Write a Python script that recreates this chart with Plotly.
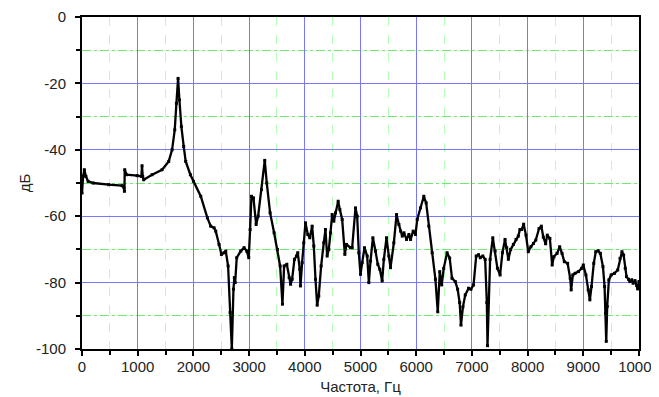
import plotly.graph_objects as go

freq_hz = [0, 20, 42, 70, 110, 200, 480, 720, 755, 762, 767, 800, 990, 1066, 1078, 1090, 1108, 1258, 1437, 1557,
           1617, 1665, 1695, 1725, 1749, 1784, 1826, 1862, 1946, 2000, 2132, 2251, 2311, 2371, 2401, 2461, 2503,
           2551, 2581, 2623, 2659, 2690, 2719, 2735, 2750, 2778, 2850, 2910, 2958, 2994, 3018, 3042, 3078, 3126,
           3162, 3222, 3281, 3317, 3377, 3449, 3509, 3557, 3599, 3629, 3677, 3719, 3745, 3772, 3814, 3850, 3874,
           3910, 3922, 3952, 3982, 4012, 4054, 4090, 4132, 4162, 4192, 4222, 4251, 4293, 4341, 4371, 4401, 4431,
           4461, 4491, 4521, 4551, 4599, 4629, 4671, 4719, 4749, 4820, 4850, 4910, 4940, 4970, 5000, 5030, 5072,
           5120, 5150, 5180, 5222, 5269, 5311, 5347, 5389, 5419, 5467, 5509, 5539, 5599, 5647, 5689, 5720, 5750,
           5780, 5827, 5869, 5899, 5946, 5988, 6018, 6077, 6137, 6179, 6226, 6286, 6345, 6387, 6423, 6458, 6494,
           6554, 6601, 6643, 6702, 6744, 6780, 6804, 6839, 6881, 6940, 6982, 7030, 7077, 7119, 7150, 7196, 7238,
           7268, 7280, 7298, 7327, 7375, 7417, 7458, 7506, 7548, 7595, 7625, 7655, 7696, 7744, 7792, 7833, 7863,
           7894, 7929, 7971, 8012, 8059, 8106, 8147, 8206, 8247, 8282, 8324, 8353, 8400, 8441, 8471, 8529, 8576,
           8618, 8659, 8718, 8765, 8782, 8812, 8853, 8912, 8971, 9000, 9047, 9088, 9118, 9147, 9188, 9224, 9265,
           9306, 9353, 9382, 9400, 9412, 9429, 9459, 9500, 9559, 9618, 9659, 9694, 9724, 9753, 9776, 9812, 9835,
           9871, 9894, 9929, 9959, 9976, 10000]

level_db = [-53, -48, -46, -48, -49.5, -50, -50.5, -50.8, -51.5, -52.5, -46, -47.5, -47.8, -48, -44.8, -48, -49,
            -47.5, -46, -43.5, -40, -34, -26, -18.5, -25, -33, -39, -43.5, -47.5, -49.5, -54, -60.5, -63, -63.5,
            -64.5, -68.5, -71.5, -71, -70.5, -75, -89, -100, -82, -78.5, -80, -72.5, -70.5, -69.5, -70.5, -72.5,
            -64, -54, -54.5, -62.5, -60, -52, -43.2, -50, -59, -65, -70, -75, -86.5, -75, -74.5, -78.5, -80.5, -79,
            -73, -72, -71, -76, -81, -74, -68, -62, -65.5, -66.5, -63, -69, -79, -86.8, -84, -75, -68, -64, -72,
            -70, -65, -59.5, -61.5, -59, -55.5, -58, -61, -71.5, -68.5, -69.5, -69.5, -57.5, -60, -71, -77.5, -74,
            -69.5, -72, -80, -73.5, -66.5, -70.5, -74.5, -76, -79.5, -73, -66.5, -72, -75.5, -68, -59.5, -62.5,
            -64.5, -66, -65, -67, -65.5, -67, -64.5, -65.5, -61, -57.5, -54, -56, -63, -71, -79, -88.8, -76.7,
            -80.7, -75.7, -71, -72.6, -78.7, -79.7, -82, -86, -92.8, -87.3, -83.7, -81.7, -82, -80.7, -72, -71.6,
            -72.5, -72, -73, -86, -99, -86, -73, -66.5, -70.5, -75.7, -77.7, -71, -67, -69.5, -73, -70, -68.5, -67,
            -66, -64, -64, -62.4, -65.7, -70.7, -69.2, -68.2, -67.2, -63.7, -63, -66.3, -68.3, -65.7, -66.7, -74.7,
            -72.2, -71.2, -69.2, -71.2, -73.7, -74.2, -78.7, -82.2, -77.7, -77.2, -76.7, -75.7, -74.7, -77.7, -82.2,
            -85.2, -81.2, -74.2, -70.7, -70.4, -71.2, -75.2, -81.2, -89.2, -97.7, -87.2, -79.2, -77.7, -77.2, -76.2,
            -72.7, -70.7, -71.7, -75.7, -78.2, -79, -79.7, -79.2, -80.2, -79.4, -80.9, -81.9, -79.7]

x_ticks = [0, 1000, 2000, 3000, 4000, 5000, 6000, 7000, 8000, 9000, 10000]
y_ticks = [0, -20, -40, -60, -80, -100]

fig = go.Figure()
fig.add_trace(go.Scatter(
    x=freq_hz, y=level_db, mode="lines+markers",
    line=dict(color="black", width=2.3),
    marker=dict(color="black", size=3, symbol="square"),
    showlegend=False, cliponaxis=True,
))

fam = "Liberation Sans, Arial, sans-serif"
font = dict(family=fam, size=15, color="#222")
major_grid = "rgb(120,120,255)"

# the page body has an 8px margin, so the figure is sized to fill the rest of the window
fig.update_layout(
    width=651, height=389,
    margin=dict(l=74, r=20, t=9, b=48),
    paper_bgcolor="white", plot_bgcolor="white",
    font=font,
    xaxis=dict(
        range=[0, 10000], tickvals=x_ticks, ticktext=[str(v) for v in x_ticks],
        automargin=False, ticklabelstandoff=-2, ticklabeloverflow="allow",
        showgrid=True, gridcolor=major_grid, gridwidth=1.3,
        ticks="outside", ticklen=5, tickwidth=1.5, tickcolor="black",
        showline=True, linecolor="black", linewidth=2, mirror=True,
        zeroline=False,
        minor=dict(dtick=500, tick0=0, showgrid=True, gridcolor="rgb(180,255,180)",
                   griddash="dash", gridwidth=1, ticks="outside", ticklen=4, tickcolor="black"),
        title=dict(text="Частота, Гц", font=dict(size=15, family=fam, color="#222"), standoff=7),
    ),
    yaxis=dict(
        range=[-100, 0], tickvals=y_ticks, ticktext=[str(v) for v in y_ticks],
        automargin=False, ticklabelstandoff=6,
        showgrid=True, gridcolor=major_grid, gridwidth=1.3,
        ticks="outside", ticklen=5, tickwidth=1.5, tickcolor="black",
        showline=True, linecolor="black", linewidth=2, mirror=True,
        zeroline=False,
        minor=dict(dtick=10, tick0=0, showgrid=True, gridcolor="rgb(110,235,110)",
                   griddash="dashdot", gridwidth=1, ticks="outside", ticklen=4, tickcolor="black"),
        title=dict(text="дБ", font=dict(size=15, family=fam, color="#222"), standoff=2),
    ),
)

fig.write_html("out.html")
